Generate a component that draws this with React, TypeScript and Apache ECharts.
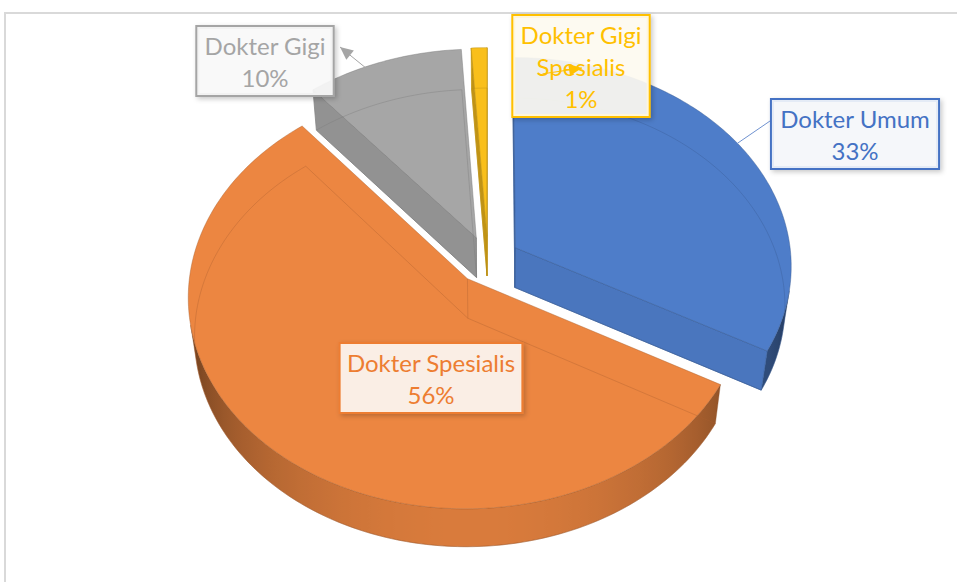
import React, { useEffect, useRef } from 'react';
import * as echarts from 'echarts';

// ---------- data ----------
const categories = ['Dokter Umum', 'Dokter Spesialis', 'Dokter Gigi', 'Dokter Gigi Spesialis'];
const values = [33, 56, 10, 1];
const percentLabels = ['33%', '56%', '10%', '1%'];
const labelWrapped = ['Dokter Umum', 'Dokter Spesialis', 'Dokter Gigi', 'Dokter Gigi\nSpesialis'];

// ---------- styles ----------
const COLORS = ['#4E7DC9', '#EC8641', '#A6A6A6', '#F9BF1B'];
const TEXT_COLORS = ['#4472C4', '#ED7D31', '#A5A5A5', '#FFC000'];
const LEADER_COLORS = ['#6F92D0', '', '#A5A5A5', '#FFC000'];

// ---------- layout / projection ----------
const CX = 488;
const CY = 260;
const FOCAL = 2197;
const CAM_DIST = 7.96;
const SA = 0.753;
const CA = Math.sqrt(1 - SA * SA);
const THICK = 0.223;
const EXPLODE = 0.116;
const TAU = Math.PI * 2;
const DEG = Math.PI / 180;

// label centres (px)
const LABEL_POS: [number, number][] = [[855, 134], [431, 378], [265, 61], [581, 66]];
const LABEL_PAD: [number, number][] = [[2, 8], [2, 6], [2, 7], [2, 7]];
// leader: [slice angle deg, radius fraction, end x, end y, arrow, visible shaft length (px, 0 = full)]
const LEADERS: ([number, number, number, number, boolean, number] | null)[] = [
  [58, 1.0, 770, 121, false, 0],
  null,
  [334, 0.99, 340, 47, true, 0],
  [358, 0.8, 582, 68, true, 40],
];

const total = values.reduce((s, v) => s + v, 0);
const starts: number[] = [];
{
  let acc = 0;
  values.forEach((v) => {
    starts.push((acc / total) * TAU);
    acc += v;
  });
}
const mids = values.map((v, i) => starts[i] + ((v / total) * TAU) / 2);
// draw order: far slices first
const order = values.map((_, i) => i).sort((p, q) => Math.cos(mids[q]) - Math.cos(mids[p]));
const rank: number[] = [];
order.forEach((idx, r) => (rank[idx] = r));

function proj(x: number, y: number, z: number): [number, number] {
  const depth = CAM_DIST + z * CA - y * SA;
  const yc = y * CA + z * SA;
  return [CX + (FOCAL * x) / depth, CY - (FOCAL * yc) / depth];
}

function hexToRgb(h: string): [number, number, number] {
  const n = parseInt(h.slice(1), 16);
  return [(n >> 16) & 255, (n >> 8) & 255, n & 255];
}
function shade(h: string, f: number): string {
  const [r, g, b] = hexToRgb(h);
  const c = (v: number) => Math.max(0, Math.min(255, Math.round(v * f)));
  return `rgb(${c(r)},${c(g)},${c(b)})`;
}
function tint(h: string, w: number, a: number): string {
  const [r, g, b] = hexToRgb(h);
  const c = (v: number) => Math.round(255 * (1 - w) + v * w);
  return `rgba(${c(r)},${c(g)},${c(b)},${a})`;
}

const CAM_Z = -CAM_DIST * CA;

function viewDot(nx: number, nz: number, px: number, pz: number): number {
  const vx = -px;
  const vz = CAM_Z - pz;
  const len = Math.hypot(vx, vz);
  return (nx * vx + nz * vz) / len;
}

function renderSlice(params: any, api: any) {
  const i = params.dataIndex;
  const v = Number(api.value(1));
  const a = starts[i];
  const b = a + (v / total) * TAU;
  const m = (a + b) / 2;
  const ox = EXPLODE * Math.sin(m);
  const oz = EXPLODE * Math.cos(m);
  const rim = (t: number, y: number, r = 1) => proj(ox + r * Math.sin(t), y, oz + r * Math.cos(t));
  const cTop = proj(ox, 0, oz);
  const cBot = proj(ox, -THICK, oz);
  const color = COLORS[i];
  const base = rank[i] * 10;
  const edge = shade(color, 0.72);
  const children: any[] = [];

  // outer wall: contiguous visible runs, each one polygon with a horizontal shading gradient
  const n = Math.max(2, Math.ceil((b - a) / DEG));
  const seg = (k: number) => a + ((b - a) * k) / n;
  const vis: number[] = [];
  for (let k = 0; k < n; k++) {
    const tm = (seg(k) + seg(k + 1)) / 2;
    vis.push(viewDot(Math.sin(tm), Math.cos(tm), ox + Math.sin(tm), oz + Math.cos(tm)));
  }
  let k = 0;
  while (k < n) {
    if (vis[k] <= 0) {
      k++;
      continue;
    }
    const k0 = k;
    while (k < n && vis[k] > 0) k++;
    const k1 = k; // exclusive
    const topRun: [number, number][] = [];
    const botRun: [number, number][] = [];
    for (let j = k0; j <= k1; j++) {
      topRun.push(rim(seg(j), 0));
      botRun.push(rim(seg(j), -THICK));
    }
    const stopsRaw: { x: number; c: string }[] = [];
    for (let j = k0; j < k1; j++) {
      const tm = (seg(j) + seg(j + 1)) / 2;
      const f = 0.42 + 0.5 * Math.pow(vis[j], 0.8);
      stopsRaw.push({ x: rim(tm, 0)[0], c: shade(color, f) });
    }
    let minX = Infinity;
    let maxX = -Infinity;
    [...topRun, ...botRun].forEach((p) => {
      minX = Math.min(minX, p[0]);
      maxX = Math.max(maxX, p[0]);
    });
    const span = Math.max(1, maxX - minX);
    const stops = stopsRaw
      .map((s) => ({ offset: Math.max(0, Math.min(1, (s.x - minX) / span)), color: s.c }))
      .sort((p, q) => p.offset - q.offset);
    const fill = new echarts.graphic.LinearGradient(minX, 0, maxX, 0, stops, true);
    children.push({
      type: 'polygon',
      shape: { points: [...topRun, ...botRun.reverse()] },
      style: { fill, stroke: shade(color, 0.6), lineWidth: 0.6, strokeOpacity: 0.6 },
      z2: base + 1,
    });
  }

  // radial faces
  const faces: [number, number, number][] = [
    [a, -Math.cos(a), Math.sin(a)],
    [b, Math.cos(b), -Math.sin(b)],
  ];
  faces.forEach(([t, nx, nz]) => {
    const nd = viewDot(nx, nz, ox + 0.5 * Math.sin(t), oz + 0.5 * Math.cos(t));
    if (nd <= 0) return;
    const f = 0.76 + 0.2 * nd;
    children.push({
      type: 'polygon',
      shape: { points: [cTop, rim(t, 0), rim(t, -THICK), cBot] },
      style: { fill: shade(color, f), stroke: shade(color, 0.8), lineWidth: 0.8 },
      z2: base + 2,
    });
  });

  // top surface
  const topPts: [number, number][] = [cTop];
  for (let j = 0; j <= n; j++) topPts.push(rim(seg(j), 0));
  children.push({
    type: 'polygon',
    shape: { points: topPts },
    style: { fill: color, stroke: edge, lineWidth: 0.8, strokeOpacity: 0.55 },
    z2: base + 3,
  });

  // faint see-through edges of the bottom
  const botPts: [number, number][] = [cBot];
  for (let j = 0; j <= n; j++) botPts.push(rim(seg(j), -THICK));
  botPts.push(cBot);
  children.push({
    type: 'polyline',
    shape: { points: botPts },
    style: { fill: null, stroke: edge, lineWidth: 0.8, opacity: 0.45 },
    z2: base + 4,
  });
  children.push({
    type: 'polyline',
    shape: { points: [cTop, cBot] },
    style: { fill: null, stroke: edge, lineWidth: 0.8, opacity: 0.45 },
    z2: base + 4,
  });

  // leader line
  const ld = LEADERS[i];
  if (ld) {
    const [deg, r, ex, ey, arrow, shaft] = ld;
    const s = rim(deg * DEG, 0, r);
    const lc = LEADER_COLORS[i];
    const dx = ex - s[0];
    const dy = ey - s[1];
    const len = Math.hypot(dx, dy);
    const ux = dx / len;
    const uy = dy / len;
    const sx = shaft > 0 ? ex - ux * shaft : s[0];
    const sy = shaft > 0 ? ey - uy * shaft : s[1];
    children.push({
      type: 'line',
      shape: { x1: sx, y1: sy, x2: ex, y2: ey },
      style: { stroke: lc, lineWidth: 1 },
      z2: 205,
    });
    if (arrow) {
      const bx = ex - ux * 13;
      const by = ey - uy * 13;
      children.push({
        type: 'polygon',
        shape: { points: [[ex, ey], [bx - uy * 6, by + ux * 6], [bx + uy * 6, by - ux * 6]] },
        style: { fill: lc },
        z2: 210,
      });
    }
  }

  // data label
  const [lx, ly] = LABEL_POS[i];
  children.push({
    type: 'text',
    x: lx,
    y: ly,
    style: {
      text: `${labelWrapped[i]}\n${percentLabels[i]}`,
      fill: TEXT_COLORS[i],
      fontSize: 24,
      fontFamily: 'Lato',
      lineHeight: 32,
      align: 'center',
      verticalAlign: 'middle',
      backgroundColor: tint(TEXT_COLORS[i], 0.05, 0.9),
      borderColor: TEXT_COLORS[i],
      borderWidth: 2,
      padding: [LABEL_PAD[i][0], LABEL_PAD[i][1]],
      shadowColor: 'rgba(0,0,0,0.22)',
      shadowBlur: 5,
      shadowOffsetX: 2,
      shadowOffsetY: 2,
    },
    z2: 200,
  });

  return { type: 'group', children };
}

export default function App() {
  const ref = useRef<HTMLDivElement>(null);
  useEffect(() => {
    if (!ref.current) return;
    const chart = echarts.init(ref.current, undefined, { renderer: 'svg' });
    chart.setOption({
      animation: false,
      backgroundColor: '#ffffff',
      graphic: [
        {
          type: 'rect',
          shape: { x: 5, y: 13, width: 1000, height: 620 },
          style: { fill: 'none', stroke: '#D9D9D9', lineWidth: 2 },
          z: -1,
        },
      ],
      series: [
        {
          type: 'custom',
          coordinateSystem: 'none',
          name: 'Tenaga Kesehatan',
          data: values.map((v, i) => ({ name: categories[i], value: [i, v] })),
          renderItem: renderSlice,
          silent: true,
        },
      ],
    });
    return () => chart.dispose();
  }, []);
  return (
    <div
      ref={ref}
      style={{ position: 'fixed', left: 0, top: 0, width: 957, height: 582, background: '#fff' }}
    />
  );
}
